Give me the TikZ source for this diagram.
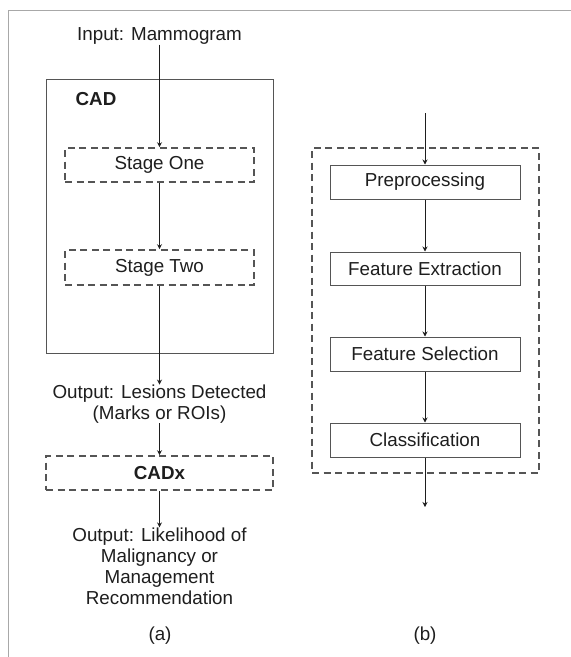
\documentclass[tikz,border=0pt]{standalone}
\usepackage{fontspec}
\setmainfont{Liberation Sans}
\usetikzlibrary{arrows.meta}
\definecolor{ink}{HTML}{1E1E1E}
\definecolor{frame}{HTML}{A8A8A8}
\definecolor{boxline}{HTML}{555555}
\begin{document}
\begin{tikzpicture}[x=1pt,y=-1pt,
  every node/.style={font=\fontsize{18.8}{21}\selectfont, text=ink},
  solidbox/.style={draw=boxline, line width=1pt, inner sep=0pt},
  dashbox/.style={draw=boxline, line width=1.6pt, dash pattern=on 7pt off 4.5pt, inner sep=0pt},
  lbl/.style={align=center, inner sep=0pt},
  conn/.style={draw=ink, line width=0.9pt, -{Stealth[length=5pt,width=5pt]}},
  plain/.style={draw=ink, line width=0.9pt}]
\useasboundingbox (0,0) rectangle (571,657);
\fill[white] (0,0) rectangle (571,657);
% page frame
\draw[frame, line width=1.2pt] (571,10.5) -- (8.5,10.5) -- (8.5,657);

% ----- (a) -----
\node[lbl] (inp) at (159.5,36) {Input: Mammogram};
\node[solidbox, minimum width=227pt, minimum height=274pt] (cad) at (159.5,216) {};
\node[lbl, font=\fontsize{18.8}{21}\selectfont\bfseries] (cadlbl) at (96,99) {CAD};
\node[dashbox, minimum width=189pt, minimum height=34pt] (s1) at (159.5,165) {Stage One};
\node[dashbox, minimum width=189pt, minimum height=35pt] (s2) at (159.5,267.5) {Stage Two};
\node[lbl] (out1) at (159.5,404) {Output: Lesions Detected\\(Marks or ROIs)};
\node[dashbox, minimum width=227pt, minimum height=34pt, font=\fontsize{18.8}{21}\selectfont\bfseries] (cadx) at (159.5,473) {CADx};
\node[lbl] (out2) at (159.5,566) {Output: Likelihood of\\Malignancy or\\Management\\Recommendation};
\node[lbl] (a) at (160,636) {(a)};

\draw[conn] (inp.south) -- (s1.north);
\draw[conn] (s1.south) -- (s2.north);
\draw[conn] (s2.south) -- (out1.north);
\draw[conn] (out1.south) -- (cadx.north);
\draw[conn] (cadx.south) -- (out2.north);

% ----- (b) -----
\coordinate (bin) at (425,113);
\node[dashbox, minimum width=227pt, minimum height=325pt] (outer) at (425.5,310.5) {};
\node[solidbox, minimum width=190pt, minimum height=34pt] (pre) at (425,182) {Preprocessing};
\node[solidbox, minimum width=190pt, minimum height=33pt] (fe) at (425,268.5) {Feature Extraction};
\node[solidbox, minimum width=190pt, minimum height=34pt] (fs) at (425,354) {Feature Selection};
\node[solidbox, minimum width=190pt, minimum height=34pt] (cl) at (425,440) {Classification};
\coordinate (bout) at (425,507);
\node[lbl] (b) at (425,636) {(b)};

\draw[conn] (bin) -- (pre.north);
\draw[conn] (pre.south) -- (fe.north);
\draw[conn] (fe.south) -- (fs.north);
\draw[conn] (fs.south) -- (cl.north);
\draw[conn] (cl.south) -- (bout);
\end{tikzpicture}
\end{document}
